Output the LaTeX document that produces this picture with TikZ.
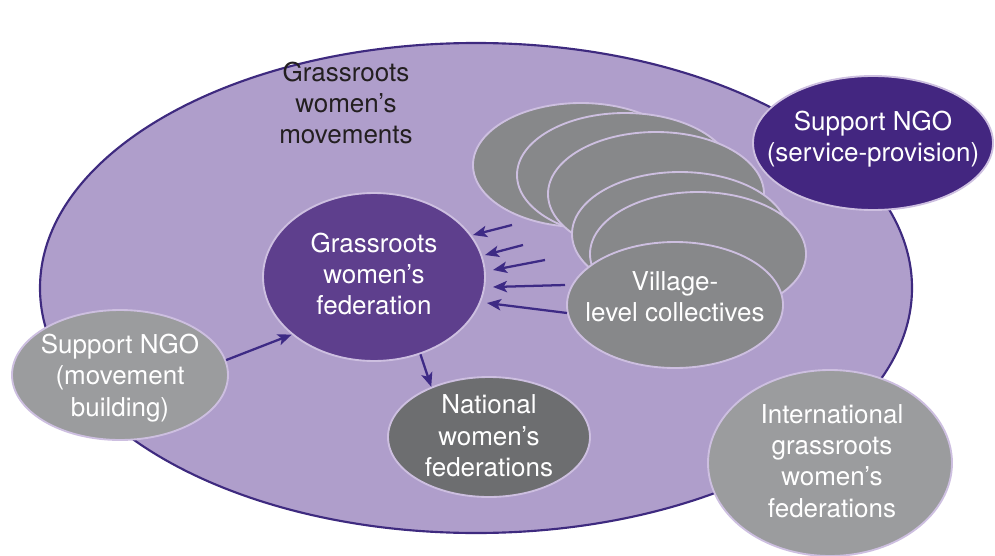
\documentclass[tikz,border=0pt]{standalone}
\usepackage{fontspec}
\setmainfont{TeX Gyre Heros}
\usetikzlibrary{shapes.geometric,arrows.meta}
\definecolor{bigfill}{HTML}{AF9ECB}
\definecolor{bigline}{HTML}{3E2A7F}
\definecolor{lav}{HTML}{CDBFE0}
\definecolor{svcfill}{HTML}{432680}
\definecolor{fedfill}{HTML}{5E3F8D}
\definecolor{lgray}{HTML}{9B9C9E}
\definecolor{vgray}{HTML}{87888A}
\definecolor{dgray}{HTML}{6D6E70}
\definecolor{arrowc}{HTML}{3D2A85}
\definecolor{darktext}{HTML}{231F20}
\begin{document}
\begin{tikzpicture}[x=0.75pt,y=-0.75pt,
  ell/.style={ellipse, inner sep=0pt, draw=lav, line width=1.4pt},
  lbl/.style={align=center, text=white, inner sep=0pt, font=\fontsize{19.5}{23.5}\selectfont},
  arr/.style={draw=arrowc, line width=1.7pt, -{Stealth[length=10.5pt,width=8.5pt,inset=2.5pt]}}]
\useasboundingbox (0,0) rectangle (995,556);
% big movement ellipse
\node[ellipse, inner sep=0pt, fill=bigfill, draw=bigline, line width=1.6pt,
  minimum width=872*0.75pt, minimum height=490*0.75pt] (mov) at (476,288) {};
% support NGO service provision
\node[ell, fill=svcfill, minimum width=240*0.75pt, minimum height=134*0.75pt] (svc) at (873,143) {};
% support NGO movement building
\node[ell, fill=lgray, minimum width=216*0.75pt, minimum height=130*0.75pt] (ngo) at (120,375) {};
% international
\node[ell, fill=lgray, minimum width=244*0.75pt, minimum height=186*0.75pt] (intl) at (830,463) {};
% village stack
\node[ell, fill=vgray, minimum width=216*0.75pt, minimum height=124*0.75pt] (v1) at (581,165) {};
\node[ell, fill=vgray, minimum width=216*0.75pt, minimum height=124*0.75pt] (v2) at (625,175) {};
\node[ell, fill=vgray, minimum width=216*0.75pt, minimum height=124*0.75pt] (v3) at (656,194) {};
\node[ell, fill=vgray, minimum width=216*0.75pt, minimum height=124*0.75pt] (v4) at (680,234) {};
\node[ell, fill=vgray, minimum width=216*0.75pt, minimum height=124*0.75pt] (v5) at (698,254) {};
\node[ell, fill=vgray, minimum width=216*0.75pt, minimum height=126*0.75pt] (vil) at (675,305) {};
% federation
\node[ell, fill=fedfill, minimum width=222*0.75pt, minimum height=168*0.75pt] (fed) at (374,277) {};
% national
\node[ell, fill=dgray, minimum width=202*0.75pt, minimum height=120*0.75pt] (nat) at (489,437) {};
% texts
\node[lbl, text=darktext] (movt) at (346,103) {Grassroots\\women’s\\movements};
\node[lbl] (svct) at (873,139) {Support NGO\\(service-provision)};
\node[lbl] (ngot) at (120,378) {Support NGO\\(movement\\building)};
\node[lbl] (intlt) at (832,461) {International\\grassroots\\women’s\\federations};
\node[lbl] (vilt) at (675,297) {Village-\\level collectives};
\node[lbl] (fedt) at (374,274) {Grassroots\\women’s\\federation};
\node[lbl] (natt) at (489,436) {National\\women’s\\federations};
% arrows
\coordinate (s1) at (512,225); \coordinate (e1) at (473,235);
\coordinate (s2) at (523,245); \coordinate (e2) at (485,255);
\coordinate (s3) at (545,260); \coordinate (e3) at (493,270);
\coordinate (s4) at (565,285); \coordinate (e4) at (493,287);
\coordinate (s5) at (567,313); \coordinate (e5) at (487,303);
\draw[arr] (s1) -- (e1);
\draw[arr] (s2) -- (e2);
\draw[arr] (s3) -- (e3);
\draw[arr] (s4) -- (e4);
\draw[arr] (s5) -- (e5);
\draw[arr] (ngo.8) -- (fed.215.6);
\draw[arr] (fed.-59.5) -- (nat.139.3);
\end{tikzpicture}
\end{document}
